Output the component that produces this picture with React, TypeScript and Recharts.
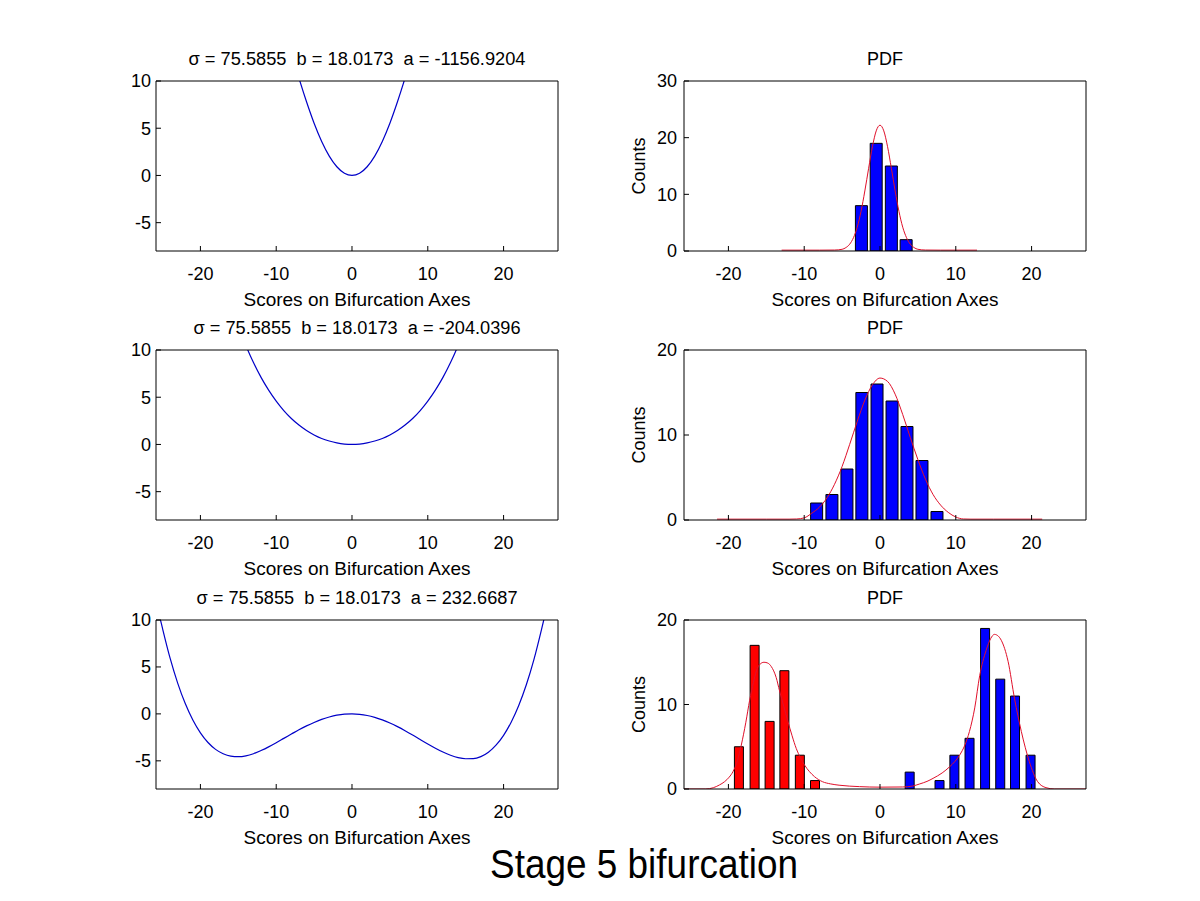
import React from "react";
import { ComposedChart, LineChart, Line, Bar, Cell, XAxis, YAxis } from "recharts";

// shared axes
const X_DOMAIN: [number, number] = [-25.86, 27.18];
const X_TICKS = [-20, -10, 0, 10, 20];
const POT_DOMAIN: [number, number] = [-8, 10];
const POT_TICKS = [-5, 0, 5, 10];

const POT_TITLES = [
  "σ = 75.5855  b = 18.0173  a = -1156.9204",
  "σ = 75.5855  b = 18.0173  a = -204.0396",
  "σ = 75.5855  b = 18.0173  a = 232.6687",
];
const PDF_TITLE = "PDF";
const X_LABEL = "Scores on Bifurcation Axes";
const Y_LABEL = "Counts";
const SUPTITLE = "Stage 5 bifurcation";

// potential curves (left column)
const POT1_X = [-7.3, -6.9, -6, -5, -4, -3, -2, -1, 0, 1, 2, 3, 4, 5, 6, 6.9, 7.3];
const POT1_Y = [11.1, 10.05, 7.8, 5.53, 3.6, 2.05, 0.92, 0.23, 0, 0.23, 0.92, 2.05, 3.6, 5.53, 7.8, 10.05, 11.1];

const POT2_X = [-14.2, -13.75, -13, -12, -11, -10, -9, -8, -7, -6, -5, -4, -3, -2, -1, 0,
  1, 2, 3, 4, 5, 6, 7, 8, 9, 10, 11, 12, 13, 13.75, 14.2];
const POT2_Y = [10.9, 10, 8.67, 7.1, 5.75, 4.59, 3.59, 2.75, 2.05, 1.47, 1.0, 0.63, 0.36, 0.16, 0.04, 0,
  0.04, 0.16, 0.36, 0.63, 1.0, 1.47, 2.05, 2.75, 3.59, 4.59, 5.75, 7.1, 8.67, 10, 10.9];

const POT3_X = [-25.7, -25.3, -25, -24, -23, -22, -21, -20, -19, -18, -17, -16, -15, -14, -13, -12,
  -11, -10, -9, -8, -7, -6, -5, -4, -3, -2, -1, 0, 1, 2, 3, 4, 5, 6, 7, 8, 9, 10, 11, 12, 13, 14,
  15, 16, 17, 18, 19, 20, 21, 22, 23, 24, 25, 25.3, 25.7];
const POT3_Y = [11.4, 10.1, 9.1, 5.93, 3.28, 1.1, -0.65, -2.02, -3.05, -3.78, -4.25, -4.5, -4.56,
  -4.47, -4.24, -3.9, -3.51, -3.07, -2.61, -2.15, -1.69, -1.28, -0.91, -0.58, -0.33, -0.14, -0.03,
  0, -0.05, -0.17, -0.37, -0.64, -0.97, -1.36, -1.79, -2.25, -2.73, -3.2, -3.65, -4.06, -4.4, -4.66,
  -4.78, -4.77, -4.55, -4.08, -3.33, -2.28, -0.88, 0.9, 3.1, 5.78, 8.98, 10.0, 11.4];

// histograms (right column)
const HIST1_X = [-2.4, -0.45, 1.55, 3.5];
const HIST1_N = [8, 19, 15, 2];
const HIST1_GROUP = ["b", "b", "b", "b"];

const HIST2_X = [-8.3, -6.28, -4.3, -2.33, -0.33, 1.65, 3.62, 5.6, 7.58];
const HIST2_N = [2, 3, 6, 15, 16, 14, 11, 7, 1];
const HIST2_GROUP = ["b", "b", "b", "b", "b", "b", "b", "b", "b"];

const HIST3_X = [-18.63, -16.56, -14.58, -12.63, -10.59, -8.59, 3.9, 7.84, 9.8, 11.8, 13.85, 15.85, 17.8, 19.85];
const HIST3_N = [5, 17, 8, 14, 4, 1, 2, 1, 4, 6, 19, 13, 11, 4];
const HIST3_GROUP = ["r", "r", "r", "r", "r", "r", "b", "b", "b", "b", "b", "b", "b", "b"];

// fitted pdf curves (red)
const PDF1_X = [-12.98, -8, -6, -5, -4.5, -4, -3.5, -3, -2.5, -2, -1.5, -1, -0.5, 0, 0.5, 1, 1.5,
  2, 2.5, 3, 3.5, 4, 4.5, 5, 6, 8, 12.8];
const PDF1_Y = [0.15, 0.15, 0.17, 0.3, 0.6, 1.2, 2.35, 4.2, 7.0, 10.6, 14.6, 18.4, 21.2, 22.2, 21.2,
  18.4, 14.6, 10.6, 7.0, 4.2, 2.35, 1.2, 0.6, 0.3, 0.17, 0.15, 0.15];

const PDF2_X = [-21.5, -15, -12, -11, -10, -9, -8, -7, -6, -5, -4, -3, -2, -1, 0, 1, 2, 3, 4, 5,
  6, 7, 8, 9, 10, 11, 12, 15, 21.4];
const PDF2_Y = [0.1, 0.1, 0.1, 0.12, 0.25, 0.8, 1.5, 2.6, 4.2, 6.3, 8.9, 11.6, 14.1, 15.9, 16.7,
  16.3, 14.8, 12.4, 9.7, 7.1, 4.8, 3.0, 1.75, 0.9, 0.35, 0.12, 0.1, 0.1, 0.1];

const PDF3_X = [-25.86, -23, -22, -21.2, -20.5, -19.9, -19.4, -18.8, -18.3, -17.7, -17.2, -16.7,
  -16.3, -15.8, -15.3, -14.8, -14.35, -13.7, -13.25, -12.7, -12.15, -11.6, -11.05, -10.5, -9.96,
  -9.3, -8.64, -7.6, -6.5, -5.4, -2.7, 0, 3, 4.3, 5.24, 6.2, 7.0, 8.2, 9.2, 10.5, 11.2, 11.8, 12.5,
  13.15, 14.0, 14.6, 15.1, 15.6, 16.0, 16.9, 17.75, 18.65, 19.7, 20.8, 21.9, 23, 27.18];
const PDF3_Y = [0, 0, 0.15, 0.47, 0.87, 1.4, 2.05, 3.4, 5.2, 7.9, 10.5, 12.6, 14.0, 14.8, 15.0,
  14.9, 14.5, 13.2, 11.6, 9.8, 8.0, 6.3, 4.8, 3.7, 2.84, 2.05, 1.46, 0.87, 0.6, 0.45, 0.28, 0.22,
  0.24, 0.35, 0.6, 0.9, 1.26, 1.9, 2.64, 4.0, 5.2, 6.8, 9.6, 13.4, 16.4, 17.8, 18.3, 18.1, 17.6,
  15.1, 10.7, 6.8, 3.25, 0.87, 0.16, 0, 0];

const HIST_DOMAINS: [number, number][] = [[0, 30], [0, 20], [0, 20]];
const HIST_TICKS = [[0, 10, 20, 30], [0, 10, 20], [0, 10, 20]];

const zip = (xs: number[], ys: number[]) => xs.map((x, i) => ({ x, y: ys[i] }));
const bars = (xs: number[], ns: number[], gs: string[]) => xs.map((x, i) => ({ x, n: ns[i], g: gs[i] }));

const POTENTIALS = [zip(POT1_X, POT1_Y), zip(POT2_X, POT2_Y), zip(POT3_X, POT3_Y)];
const PDFS = [zip(PDF1_X, PDF1_Y), zip(PDF2_X, PDF2_Y), zip(PDF3_X, PDF3_Y)];
const HISTS = [
  bars(HIST1_X, HIST1_N, HIST1_GROUP),
  bars(HIST2_X, HIST2_N, HIST2_GROUP),
  bars(HIST3_X, HIST3_N, HIST3_GROUP),
];

// layout
const LEFT_COL = [156, 558];
const RIGHT_COL = [684, 1086];
const ROWS = [[81, 251], [350, 520], [620, 789]];
const PAD = { l: 60, t: 10, r: 10, b: 60 };
const MARGIN = { top: PAD.t - 1, right: PAD.r - 1, bottom: 0, left: 0 };
const BAR_SIZES = [12, 12, 9];
const GROUP_FILL: Record<string, string> = { b: "#0000ff", r: "#ff0000" };
const FONT = "'Liberation Sans', Arial, Helvetica, sans-serif";
const TICK = { fill: "#000", fontSize: 18 };
const TITLE_LEN = [337, 327, 321];

function frame(col: number[], row: number[]) {
  return {
    left: col[0] - PAD.l,
    top: row[0] - PAD.t,
    width: col[1] - col[0] + PAD.l + PAD.r,
    height: row[1] - row[0] + PAD.t + PAD.b,
  };
}

// bottom/left axes carry labels; 1px top/right axes close the box with inward ticks
function boxAxes(yDomain: [number, number], yTicks: number[], yMargin: number) {
  return [
    <XAxis key="xb" dataKey="x" type="number" domain={X_DOMAIN} ticks={X_TICKS} interval={0}
      allowDataOverflow height={PAD.b} stroke="#000" tickSize={-5} tickMargin={21} tick={TICK} />,
    <XAxis key="xt" xAxisId="top" orientation="top" dataKey="x" type="number" domain={X_DOMAIN}
      ticks={X_TICKS} interval={0} allowDataOverflow height={1} stroke="#000" tickSize={-5} tick={false} />,
    <YAxis key="yl" type="number" domain={yDomain} ticks={yTicks} interval={0} allowDataOverflow
      width={PAD.l} stroke="#000" tickSize={-5} tickMargin={yMargin} tick={TICK} />,
    <YAxis key="yr" yAxisId="right" orientation="right" type="number" domain={yDomain} ticks={yTicks}
      interval={0} allowDataOverflow width={1} stroke="#000" tickSize={-5} tick={false} />,
  ];
}

function PotentialPanel({ row }: { row: number }) {
  const f = frame(LEFT_COL, ROWS[row]);
  return (
    <div style={{ position: "absolute", left: f.left, top: f.top }}>
      <LineChart width={f.width} height={f.height} data={POTENTIALS[row]} margin={MARGIN}>
        {boxAxes(POT_DOMAIN, POT_TICKS, 10)}
        <Line xAxisId="top" yAxisId="right" dataKey="y" stroke="none" dot={false} activeDot={false}
          isAnimationActive={false} />
        <Line dataKey="y" type="monotone" stroke="#0000c8" strokeWidth={1.2} dot={false}
          activeDot={false} isAnimationActive={false} />
      </LineChart>
    </div>
  );
}

function HistPanel({ row }: { row: number }) {
  const f = frame(RIGHT_COL, ROWS[row]);
  const data = HISTS[row];
  return (
    <div style={{ position: "absolute", left: f.left, top: f.top }}>
      <ComposedChart width={f.width} height={f.height} data={data} margin={MARGIN}>
        {boxAxes(HIST_DOMAINS[row], HIST_TICKS[row], 12)}
        <XAxis xAxisId="curve" dataKey="x" type="number" domain={X_DOMAIN} allowDataOverflow hide />
        <Line xAxisId="top" yAxisId="right" dataKey="n" stroke="none" dot={false} activeDot={false}
          isAnimationActive={false} />
        <Bar dataKey="n" barSize={BAR_SIZES[row]} stroke="#000" strokeWidth={1} isAnimationActive={false}>
          {data.map((d, i) => (
            <Cell key={i} fill={GROUP_FILL[d.g]} />
          ))}
        </Bar>
        <Line xAxisId="curve" data={PDFS[row]} dataKey="y" type="monotone" stroke="#e0102a"
          strokeWidth={1} dot={false} activeDot={false} isAnimationActive={false} />
      </ComposedChart>
    </div>
  );
}

function Labels() {
  const lc = (LEFT_COL[0] + LEFT_COL[1]) / 2;
  const rc = (RIGHT_COL[0] + RIGHT_COL[1]) / 2;
  return (
    <svg width={1200} height={901} style={{ position: "absolute", left: 0, top: 0, pointerEvents: "none" }}
      fontFamily={FONT} fill="#000">
      {ROWS.map((r, i) => (
        <g key={i}>
          <text x={lc} y={r[0] - 16} fontSize={18} textAnchor="middle" textLength={TITLE_LEN[i]}
            lengthAdjust="spacingAndGlyphs" style={{ whiteSpace: "pre" }}>{POT_TITLES[i]}</text>
          <text x={rc} y={r[0] - 16} fontSize={18} textAnchor="middle">{PDF_TITLE}</text>
          <text x={lc} y={r[1] + 55} fontSize={18} textAnchor="middle" textLength={227}
            lengthAdjust="spacingAndGlyphs">{X_LABEL}</text>
          <text x={rc} y={r[1] + 55} fontSize={18} textAnchor="middle" textLength={227}
            lengthAdjust="spacingAndGlyphs">{X_LABEL}</text>
          <text x={RIGHT_COL[0] - 39} y={(r[0] + r[1]) / 2} fontSize={18} textAnchor="middle"
            transform={`rotate(-90 ${RIGHT_COL[0] - 39} ${(r[0] + r[1]) / 2})`}>{Y_LABEL}</text>
        </g>
      ))}
      <text x={644} y={878} fontSize={41} textAnchor="middle" textLength={308}
        lengthAdjust="spacingAndGlyphs">{SUPTITLE}</text>
    </svg>
  );
}

export default function App() {
  return (
    <div style={{ position: "absolute", left: 0, top: 0, width: 1200, height: 901, background: "#fff",
      overflow: "hidden", fontFamily: FONT }}>
      {[0, 1, 2].map((r) => <PotentialPanel key={`p${r}`} row={r} />)}
      {[0, 1, 2].map((r) => <HistPanel key={`h${r}`} row={r} />)}
      <Labels />
    </div>
  );
}
